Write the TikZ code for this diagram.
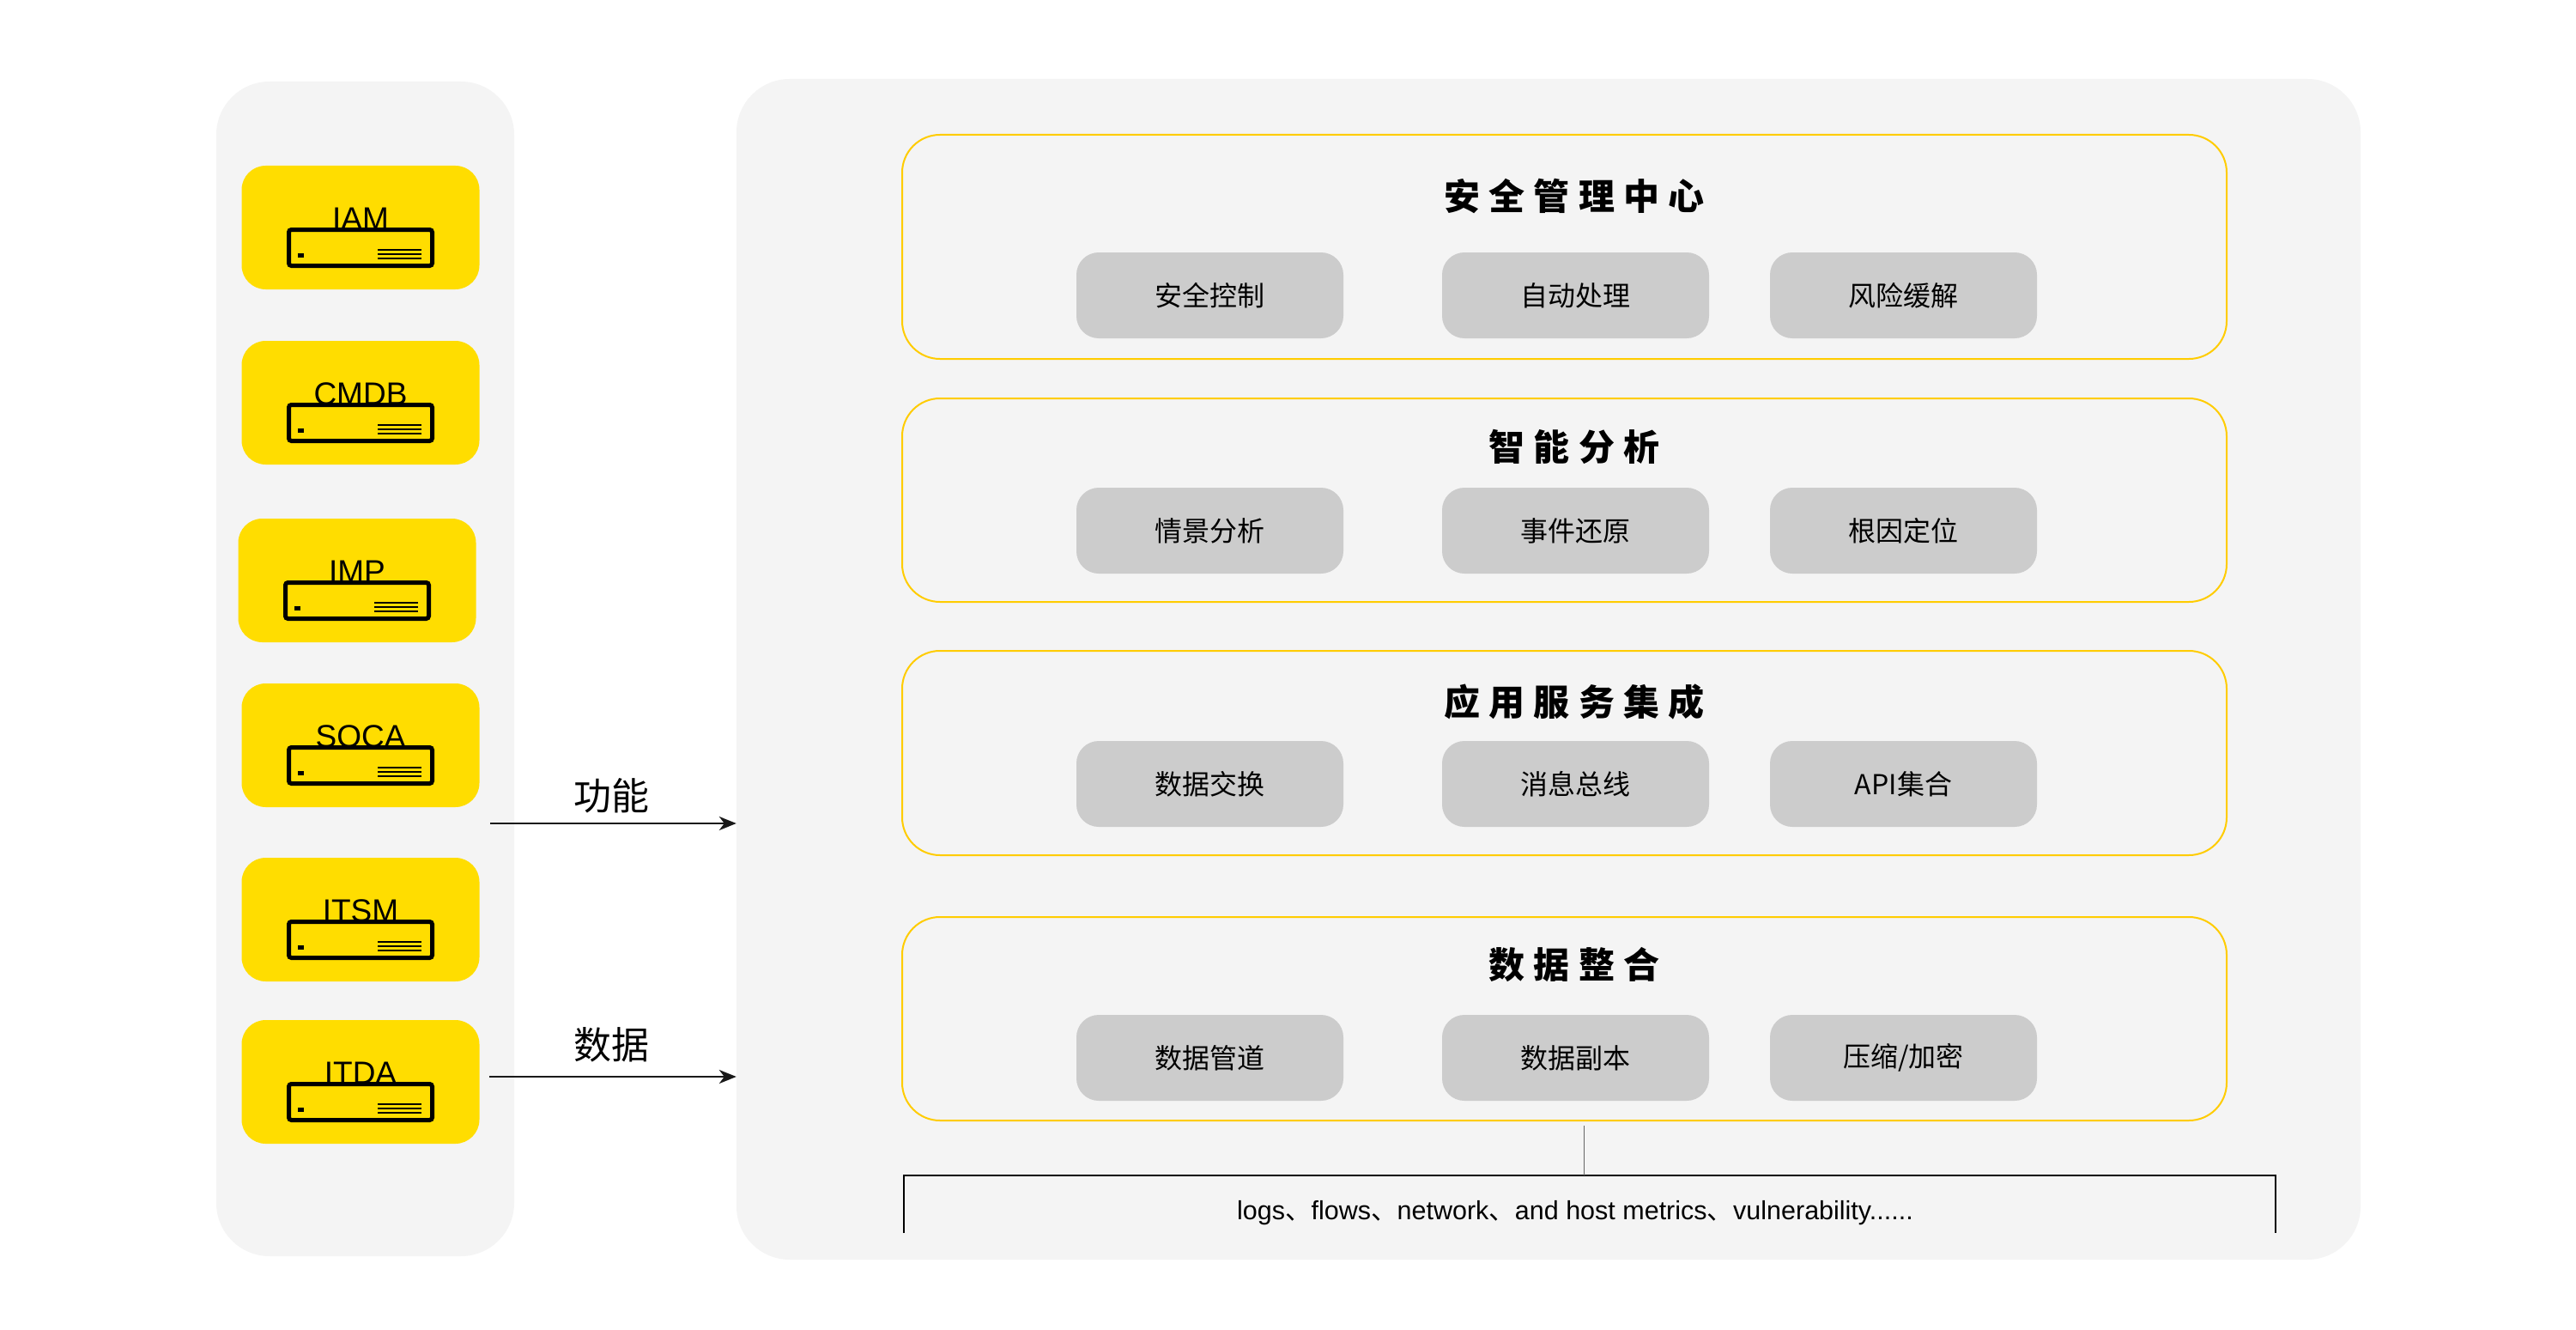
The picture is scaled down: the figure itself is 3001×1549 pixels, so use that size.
\documentclass[tikz,border=0pt]{standalone}
\usepackage{fontspec}
\setmainfont{Liberation Sans}
\newfontfamily\cjk{Noto Sans CJK SC}
\newfontfamily\cjktitle[LetterSpace=24]{Noto Sans CJK SC}
\usetikzlibrary{arrows.meta}

\definecolor{panelgray}{HTML}{F4F4F4}
\definecolor{boxyellow}{HTML}{FFDD00}
\definecolor{lineyellow}{HTML}{FFCC00}
\definecolor{modgray}{HTML}{CCCCCC}

\newcommand\dun{{\cjk 、}}

\tikzset{
  panel/.style={fill=panelgray, rounded corners=62pt, inner sep=0pt},
  sysbox/.style={fill=boxyellow, rounded corners=28pt, minimum width=277pt, minimum height=144pt, inner sep=0pt},
  syslabel/.style={anchor=base, inner sep=0pt, font=\fontsize{37pt}{43pt}\selectfont},
  layer/.style={draw=lineyellow, line width=2pt, rounded corners=44pt, minimum width=1543pt, inner sep=0pt},
  layertitle/.style={inner sep=0pt, font=\cjktitle\bfseries\fontsize{42pt}{50pt}\selectfont},
  module/.style={fill=modgray, rounded corners=26pt, minimum width=311pt, minimum height=100pt, inner sep=0pt, font=\cjk\fontsize{32pt}{38pt}\selectfont},
  flow/.style={-{Stealth[length=20pt,width=16pt,inset=6pt]}, line width=2pt, draw=black!90},
  flowlabel/.style={inner sep=0pt, font=\cjk\fontsize{44pt}{52pt}\selectfont},
}

\begin{document}
\begin{tikzpicture}[x=1pt,y=-1pt]
  \useasboundingbox (0,0) rectangle (3001,1549);
  \fill[white] (0,0) rectangle (3001,1549);

  % panels
  \node[panel, minimum width=347pt, minimum height=1368pt] (side) at (425.5,779) {};
  \node[panel, minimum width=1892pt, minimum height=1375pt] (main) at (1804,779.5) {};

  % systems on the left
  \foreach \n/\t/\x/\y in {iam/IAM/420/265, cmdb/CMDB/420/469, imp/IMP/416/676,
                           soca/SOCA/420/868, itsm/ITSM/420/1071, itda/ITDA/420/1260} {
    \node[sysbox] (\n) at (\x,\y) {};
    \begin{scope}[shift={(\n.center)}]
      \draw[line width=5pt, rounded corners=3pt] (-83.5,2.5) rectangle (83.5,44.5);
      \fill (-73,30) rectangle (-66,35);
      \foreach \l in {26,31,36}
        \draw[line width=1.5pt] (20,\l) -- (71,\l);
    \end{scope}
    \node[syslabel] (\n-label) at ([yshift=-2pt]\n.center) {\t};
  }

  % layers
  \node[layer, minimum height=261pt] (sec1) at (1822.5,287.5) {};
  \node[layer, minimum height=237pt] (sec2) at (1822.5,582.5) {};
  \node[layer, minimum height=238pt] (sec3) at (1822.5,877) {};
  \node[layer, minimum height=237pt] (sec4) at (1822.5,1186.5) {};

  \node[layertitle] (t1) at (1834,228) {安全管理中心};
  \node[layertitle] (t2) at (1834,520) {智能分析};
  \node[layertitle] (t3) at (1834,817) {应用服务集成};
  \node[layertitle] (t4) at (1834,1124) {数据整合};

  \node[module] (m11) at (1409.5,344) {安全控制};
  \node[module] (m12) at (1835.5,344) {自动处理};
  \node[module] (m13) at (2217.5,344) {风险缓解};
  \node[module] (m21) at (1409.5,618) {情景分析};
  \node[module] (m22) at (1835.5,618) {事件还原};
  \node[module] (m23) at (2217.5,618) {根因定位};
  \node[module] (m31) at (1409.5,913) {数据交换};
  \node[module] (m32) at (1835.5,913) {消息总线};
  \node[module] (m33) at (2217.5,913) {API集合};
  \node[module] (m41) at (1409.5,1232) {数据管道};
  \node[module] (m42) at (1835.5,1232) {数据副本};
  \node[module] (m43) at (2217.5,1232) {压缩/加密};

  % data sources
  \coordinate (bl) at (1053,1436);
  \coordinate (tr) at (2651,1369);
  \coordinate (br) at (2651,1436);
  \draw[line width=1.5pt] (bl) |- (tr) -- (br);
  \coordinate (tap) at (1845,1311);
  \draw[line width=1pt, draw=black!60] (tap) -- (tap |- tr);
  \node[inner sep=0pt, font=\fontsize{30.5pt}{36pt}\selectfont] (src) at (1835,1413)
    {logs\dun flows\dun network\dun and host metrics\dun vulnerability......};

  % arrows
  \coordinate (fstart) at (571,959);
  \coordinate (dstart) at (570,1254);
  \draw[flow] (fstart) -- (fstart -| main.west);
  \draw[flow] (dstart) -- (dstart -| main.west);
  \node[flowlabel] (flabel) at (712,927) {功能};
  \node[flowlabel] (dlabel) at (712,1217) {数据};
\end{tikzpicture}
\end{document}
